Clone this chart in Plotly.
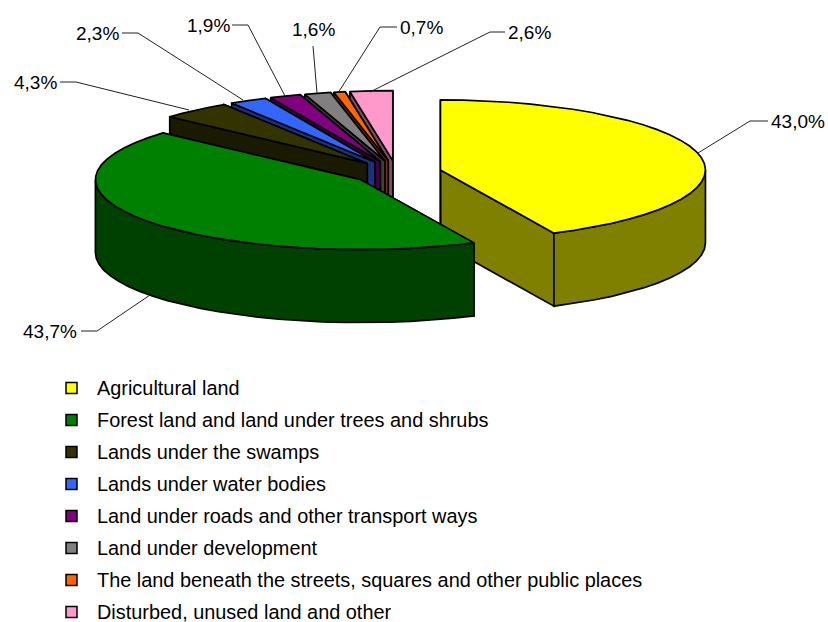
import math
import plotly.graph_objects as go

categories = ["Agricultural land", "Forest land and land under trees and shrubs",
              "Lands under the swamps", "Lands under water bodies",
              "Land under roads and other transport ways", "Land under development",
              "The land beneath the streets, squares and other public places",
              "Disturbed, unused land and other"]
values = [43.0, 43.7, 4.3, 2.3, 1.9, 1.6, 0.7, 2.6]
value_labels = ["43,0%", "43,7%", "4,3%", "2,3%", "1,9%", "1,6%", "0,7%", "2,6%"]
colors = ["#FFFF00", "#008000", "#333300", "#3366FF", "#800080", "#808080", "#FF6600", "#FF99CC"]
wall_colors = ["#808000", "#004000", "#1A1A00", "#1A3380", "#400040", "#404040", "#803300", "#804D66"]

W, H = 828, 622
CX, CY, RX, RY, DEPTH, PULL = 396.5, 172.5, 265, 70, 73, 0.17
FONT = "Liberation Sans"
FS_LABEL = 19
FS_LEGEND = 19.9

fig = go.Figure()


def poly(xs, ys, fill):
    fig.add_trace(go.Scatter(x=xs + xs[:1], y=ys + ys[:1], mode="lines", fill="toself",
                             fillcolor=fill, line=dict(color="black", width=1.7),
                             hoverinfo="skip", showlegend=False))


total = sum(values)
spans = []
a = 0.0
for v in values:
    b = a + v / total * 360
    spans.append((a, b))
    a = b


def pt(ax, ay, deg):
    r = math.radians(deg)
    return ax + RX * math.sin(r), ay - RY * math.cos(r)


def arc(a0, a1, step=5.0):
    n = max(1, int(math.ceil((a1 - a0) / step)))
    return [a0 + (a1 - a0) * i / n for i in range(n + 1)]


order = [7, 6, 5, 4, 3, 2, 0, 1]
for i in order:
    a0, a1 = spans[i]
    mid = (a0 + a1) / 2
    ax = CX + PULL * RX * math.sin(math.radians(mid))
    ay = CY - PULL * RY * math.cos(math.radians(mid))
    for deg in (a1, a0):
        x, y = pt(ax, ay, deg)
        poly([ax, x, x, ax], [ay, y, y + DEPTH, ay + DEPTH], wall_colors[i])
    w0, w1 = max(a0, 90), min(a1, 270)
    if w1 > w0:
        pts = [pt(ax, ay, d) for d in arc(w0, w1)]
        xs = [p[0] for p in pts]
        ys = [p[1] for p in pts]
        poly(xs + xs[::-1], ys + [y + DEPTH for y in ys[::-1]], wall_colors[i])
    pts = [pt(ax, ay, d) for d in arc(a0, a1)]
    poly([ax] + [p[0] for p in pts], [ay] + [p[1] for p in pts], colors[i])

# leader lines: x and y in picture pixels, one per value label
leaders = [
    ([768, 750, 698], [121, 121, 153], 771, 121),
    ([81, 97, 150], [331, 331, 295], 23, 331),
    ([60, 76, 189], [82, 82, 110], 14, 82),
    ([122, 138, 243], [33, 33, 100], 76, 33),
    ([232, 248, 285], [25, 25, 96], 187, 25),
    ([313, 317], [46, 93], 292, 29),
    ([397, 380, 338], [27, 27, 93], 400, 27),
    ([505, 490, 370], [32, 32, 92], 508, 32),
]
annotations = []
for (lx, ly, tx, ty), lab in zip(leaders, value_labels):
    fig.add_trace(go.Scatter(x=lx, y=ly, mode="lines", line=dict(color="#222222", width=1),
                             hoverinfo="skip", showlegend=False))
    annotations.append(dict(x=tx, y=ty, text=lab, showarrow=False, xanchor="left", yanchor="middle",
                            borderpad=0, xshift=-1,
                            font=dict(family=FONT, size=FS_LABEL, color="black")))

# legend
row_y = [388 + 32 * i for i in range(len(categories))]
fig.add_trace(go.Scatter(x=[71.5] * len(categories), y=row_y, mode="markers",
                         marker=dict(symbol="square", size=11, color=colors,
                                     line=dict(color="black", width=1.5)),
                         hoverinfo="skip", showlegend=False))
for y, c in zip(row_y, categories):
    annotations.append(dict(x=97, y=y, text=c, showarrow=False, xanchor="left", yanchor="middle",
                            borderpad=0, xshift=-1,
                            font=dict(family=FONT, size=FS_LEGEND, color="black")))

fig.update_layout(width=W, height=H, margin=dict(l=0, r=0, t=0, b=0), paper_bgcolor="white",
                  plot_bgcolor="white", showlegend=False, annotations=annotations,
                  xaxis=dict(range=[0, W], visible=False, fixedrange=True),
                  yaxis=dict(range=[H, 0], visible=False, fixedrange=True))
fig.write_html("out.html", config=dict(displayModeBar=False),
               post_script="document.body.style.margin='0';document.documentElement.style.overflow='hidden';")
